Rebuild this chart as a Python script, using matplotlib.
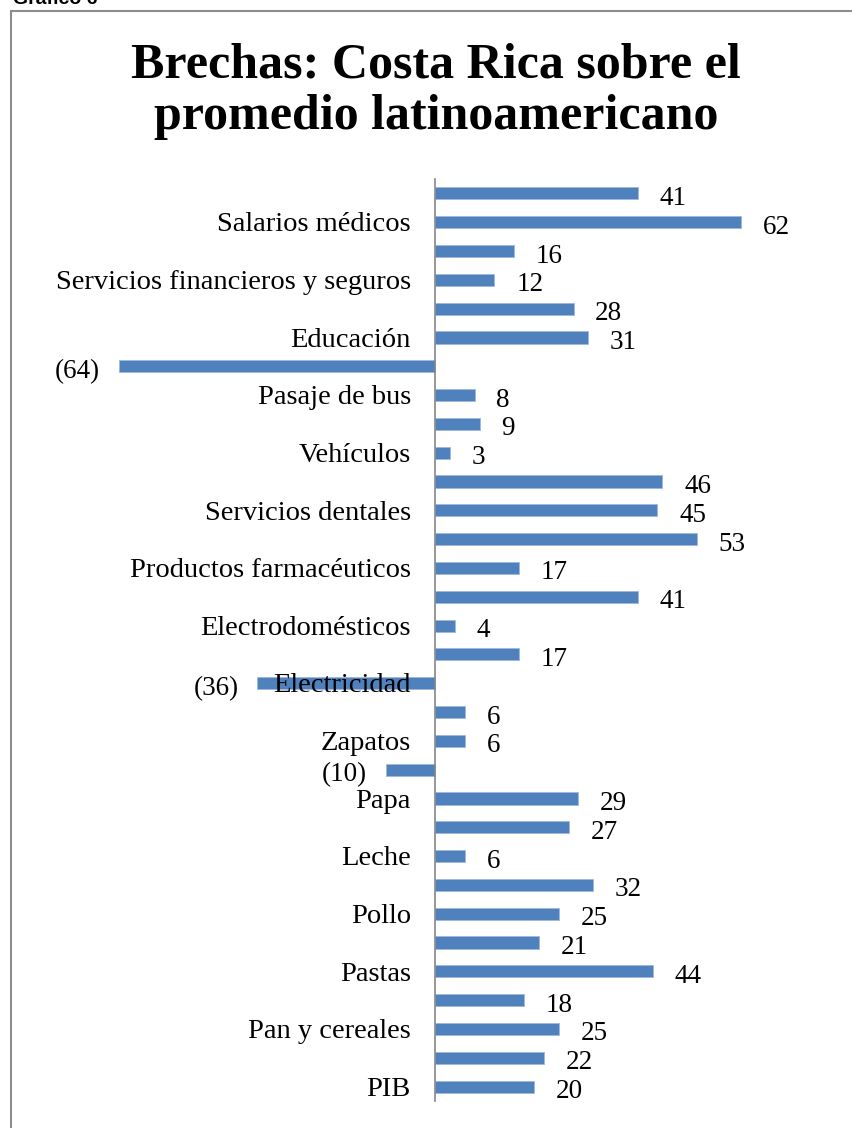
import numpy as np
import matplotlib
matplotlib.use("Agg")
import matplotlib.pyplot as plt
from matplotlib.lines import Line2D

# categories from bottom to top; blank entries are unlabeled rows
categories = ["PIB", "", "Pan y cereales", "", "Pastas", "", "Pollo", "",
              "Leche", "", "Papa", "", "Zapatos", "", "Electricidad", "",
              "Electrodomésticos", "", "Productos farmacéuticos", "",
              "Servicios dentales", "", "Vehículos", "", "Pasaje de bus", "",
              "Educación", "", "Servicios financieros y seguros", "",
              "Salarios médicos", ""]
values = [20, 22, 25, 18, 44, 21, 25, 32,
          6, 27, 29, -10, 6, 6, -36, 17,
          4, 41, 17, 53, 45, 46, 3, 9, 8, -64,
          31, 28, 12, 16, 62, 41]

serif = "Liberation Serif"
bar_color = "#4F81BD"

fig = plt.figure(figsize=(8.52, 11.28), dpi=100)
ax = fig.add_axes([119 / 852, 1 - 1101 / 1128, (781 - 119) / 852, (1101 - 179) / 1128])

y = np.arange(len(values))
ax.barh(y, values, height=0.42, color=bar_color, edgecolor="#9DB9DE", linewidth=0.6, zorder=2)
ax.set_xlim(-64, 70)
ax.set_ylim(-0.5, len(values) - 0.5)

# value labels, negatives in parentheses
for yi, v in zip(y, values):
    if v >= 0:
        ax.text(v + 4.4, yi - 0.40, f"{v}", va="baseline", ha="left", fontsize=19.5, family=serif)
    else:
        ax.text(v - 3.8, yi - 0.40, f"({-v})", va="baseline", ha="right", fontsize=19.5, family=serif)

# category labels just left of the zero line, drawn over the bars
for yi, name in zip(y, categories):
    if name:
        ax.annotate(name, (0, yi - 0.32), xytext=(-17.5, 0), textcoords="offset points",
                    ha="right", va="baseline", fontsize=20.5, family=serif, zorder=4)

ax.set_xticks([])
ax.set_yticks([])
for side in ["top", "right", "bottom"]:
    ax.spines[side].set_visible(False)
ax.spines["left"].set_position(("data", 0))
ax.spines["left"].set_color("#868686")
ax.spines["left"].set_linewidth(1.2)
ax.spines["left"].set_zorder(3)

fig.text(436 / 852, 1 - 77 / 1128, "Brechas: Costa Rica sobre el", ha="center", va="baseline",
         fontsize=36, fontweight="bold", family=serif)
fig.text(436 / 852, 1 - 129 / 1128, "promedio latinoamericano", ha="center", va="baseline",
         fontsize=36, fontweight="bold", family=serif)

fig.text(13 / 852, 1 + 1 / 1128, "Gráfico 6", ha="left", va="center",
         fontsize=14, fontweight="bold", family="Liberation Sans")

# chart frame
fig.add_artist(Line2D([11 / 852, 11 / 852], [0, 1 - 11 / 1128], color="#8C8C8C", lw=1.5))
fig.add_artist(Line2D([11 / 852, 1], [1 - 11 / 1128, 1 - 11 / 1128], color="#8C8C8C", lw=1.5))

fig.savefig("out.png", dpi=100)
